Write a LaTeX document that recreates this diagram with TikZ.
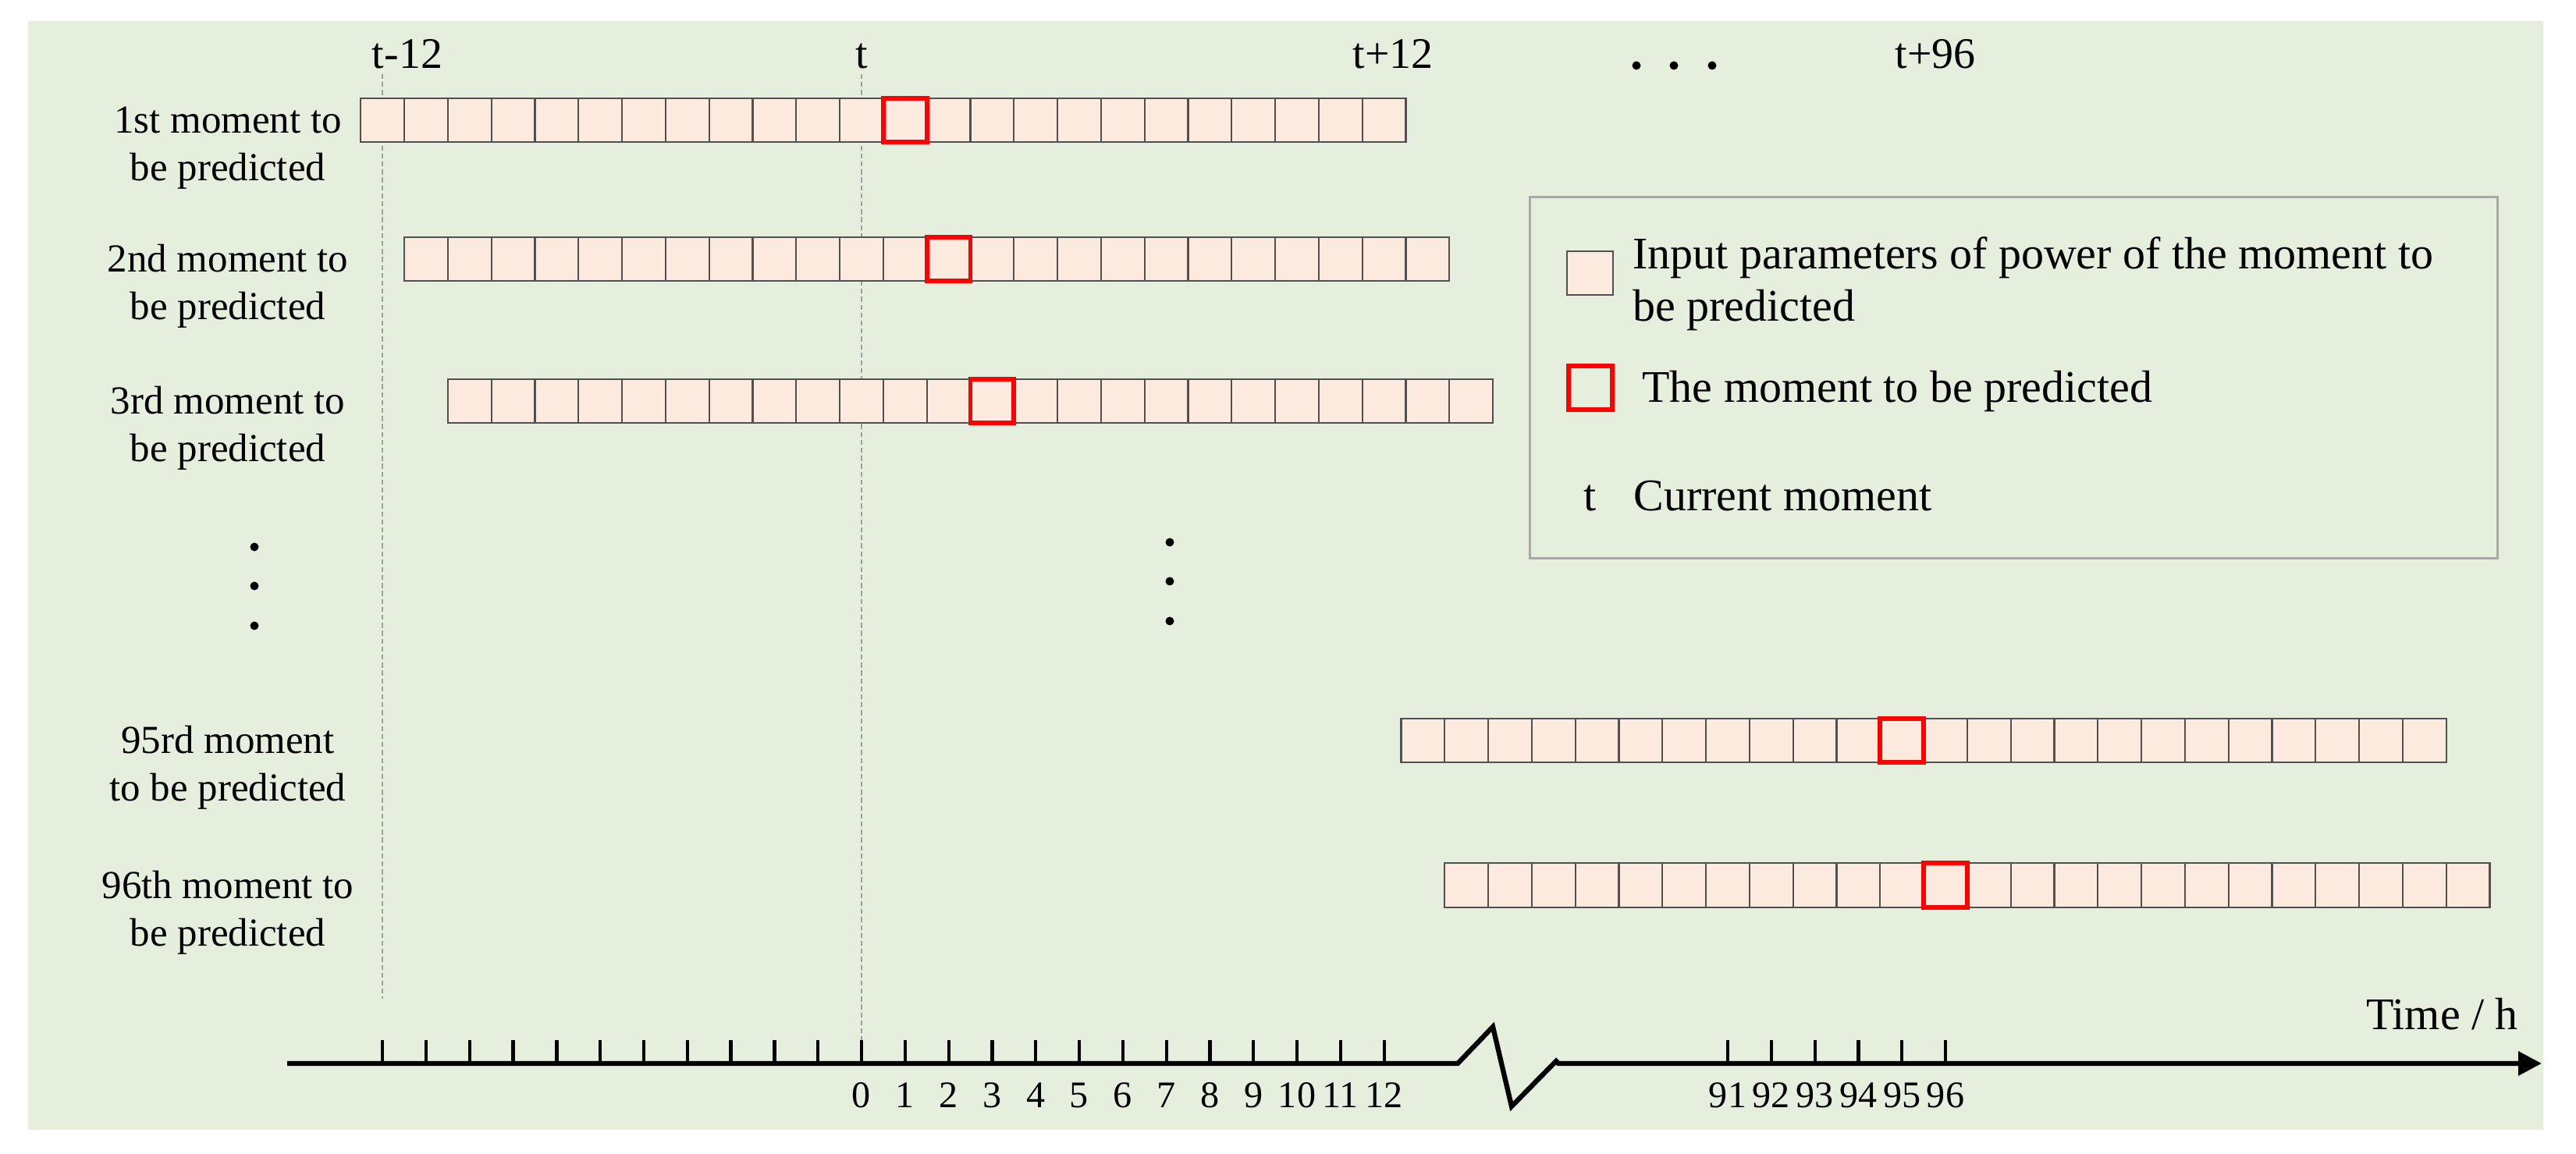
\documentclass[tikz,border=0pt]{standalone}
\usepackage{fontspec}
\setmainfont{Liberation Serif}
\usepackage{tikz}
\usetikzlibrary{arrows.meta}
\definecolor{BgGreen}{RGB}{230,238,222}
\definecolor{CellFill}{RGB}{253,234,222}
\definecolor{CellLine}{RGB}{80,80,80}
\definecolor{GuideGray}{RGB}{160,160,160}
\definecolor{BoxGray}{RGB}{168,168,168}
\definecolor{PredRed}{RGB}{255,0,0}

\begin{document}
\begin{tikzpicture}[thick]
    \def\cw{0.558} \def\ch{0.565}
    \def\tz{11.04} % tick 0
    \def\tn{22.14} % tick 91
    \def\ay{1.16}  % axis height
    \tikzset{
        cell/.style={draw=CellLine, fill=CellFill, line width=0.65pt, minimum width=\cw cm, minimum height=\ch cm, inner sep=0pt, outer sep=0pt},
        pred/.style={draw=PredRed, line width=1.7pt, minimum width=\cw cm, minimum height=\ch cm, inner sep=0pt},
        guide/.style={GuideGray, line width=0.55pt, dash pattern=on 1.8pt off 1.1pt},
        rowlabel/.style={font=\fontsize{14.5pt}{17.4pt}\selectfont, align=center, anchor=base, inner sep=0pt},
        toplabel/.style={font=\fontsize{15.9pt}{19pt}\selectfont, anchor=base, inner sep=0pt},
        ticklabel/.style={font=\fontsize{13.7pt}{16pt}\selectfont, anchor=base, inner sep=0pt},
        legendtext/.style={font=\fontsize{16.5pt}{19.1pt}\selectfont, align=left, inner sep=0pt},
        legendbox/.style={draw=BoxGray, line width=0.85pt, minimum width=12.40cm, minimum height=4.63cm, inner sep=0pt},
        dot/.style={circle, fill=black, inner sep=0pt, minimum size=0.11cm},
        axisline/.style={line width=1.8pt, line join=miter},
        tickline/.style={line width=1.2pt}
    }
    % Canvas
    \useasboundingbox (0,0) rectangle (33.01,14.79);
    \fill[white] (0,0) rectangle (33.01,14.79);
    \fill[BgGreen] (0.36,0.31) rectangle (32.59,14.52);
    % Guide lines
    \draw[guide] (\tz-11*\cw, 13.84) -- (\tz-11*\cw, 1.99);
    \draw[guide] (\tz, 13.84) -- (\tz, \ay+0.30);
    % Top labels
    \node[toplabel] (tminus) at (5.22,13.91) {t-12};
    \node[toplabel] (tnow) at (\tz,13.91) {t};
    \node[toplabel] (tplus) at (17.85,13.91) {t+12};
    \node[toplabel] (tlast) at (24.80,13.91) {t+96};
    \foreach \n/\px/\py in {1/20.97/13.95, 2/21.45/13.95, 3/21.94/13.95,
                           4/3.26/7.78, 5/3.26/7.28, 6/3.26/6.77,
                           7/14.99/7.84, 8/14.99/7.34, 9/14.99/6.83}
        \node[dot] (dot\n) at (\px,\py) {};
    % Row labels (anchored on the second line)
    \node[rowlabel] (lab1) at (2.92,12.47) {1st moment to\\be predicted};
    \node[rowlabel] (lab2) at (2.92,10.69) {2nd moment to\\be predicted};
    \node[rowlabel] (lab3) at (2.92,8.87) {3rd moment to\\be predicted};
    \node[rowlabel] (lab95) at (2.92,4.52) {95rd moment\\to be predicted};
    \node[rowlabel] (lab96) at (2.92,2.66) {96th moment to\\be predicted};
    % Rows of cells
    \foreach \r/\rx/\ry/\p in {1/4.902/13.25/12, 2/5.460/11.47/12, 3/6.018/9.65/12,
                               95/18.234/5.30/11, 96/18.792/3.445/11} {
        \foreach \k in {0,...,23}
            \node[cell] (row\r-\k) at (\rx+\k*\cw, \ry) {};
        \node[pred] (pred\r) at (row\r-\p) {};
    }
    % Legend
    \node[legendbox] (legend) at (25.80,9.945) {};
    \node[cell, minimum width=0.59cm] (legcell) at (20.375,11.29) {};
    \node[pred, minimum width=0.56cm, minimum height=0.56cm] (legpred) at (20.38,9.82) {};
    \node[legendtext, anchor=base west] (legtxt1) at (20.91,10.67) {Input parameters of power of the moment to\\be predicted};
    \node[legendtext, anchor=base west] (legtxt2) at (21.03,9.63) {The moment to be predicted};
    \node[legendtext, anchor=base] (legt) at (20.38,8.24) {t};
    \node[legendtext, anchor=base west] (legtxt3) at (20.92,8.24) {Current moment};
    % Time axis
    \coordinate (axstart) at (3.68,\ay);
    \coordinate (axend) at (32.57,\ay);
    \draw[axisline, -{Triangle[length=0.30cm,width=0.30cm]}] (axstart) -- (18.68,\ay) -- (19.13,1.63)
        -- (19.37,0.61) -- (19.94,1.19) -- (19.97,\ay) -- (axend);
    \foreach \i in {-11,...,12}
        \draw[tickline] (\tz+\i*\cw, \ay) -- ++(0,0.30);
    \foreach \i in {0,...,12}
        \node[ticklabel] (tl\i) at (\tz+\i*\cw, 0.59) {\i};
    \foreach \i in {91,...,96} {
        \draw[tickline] (\tn+\i*\cw-91*\cw, \ay) -- ++(0,0.30);
        \node[ticklabel] (tl\i) at (\tn+\i*\cw-91*\cw, 0.59) {\i};
    }
    \node[legendtext, anchor=base west] (timelab) at (30.31,1.59) {Time / h};
\end{tikzpicture}
\end{document}
